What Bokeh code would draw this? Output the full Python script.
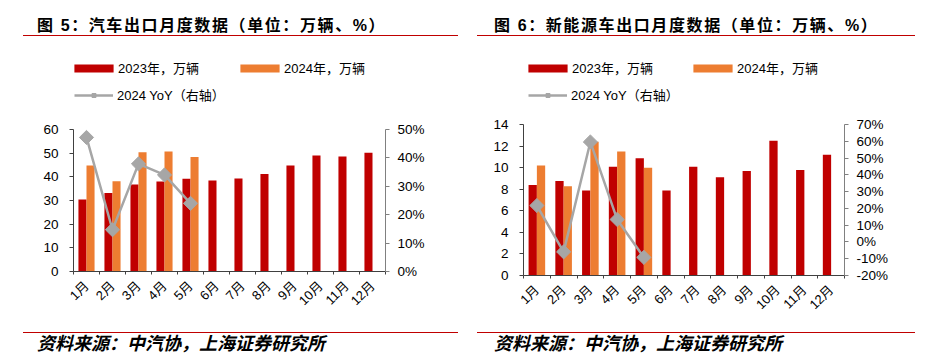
import math
from bokeh.plotting import figure
from bokeh.models import (Range1d, LinearAxis, FixedTicker, PrintfTickFormatter,
                          Legend, LegendItem, Div, ColumnDataSource)
from bokeh.layouts import row, column
from bokeh.transform import dodge
from bokeh.embed import file_html
from bokeh.resources import INLINE

# ---------------- data ----------------
months = ["1月", "2月", "3月", "4月", "5月", "6月", "7月", "8月", "9月", "10月", "11月", "12月"]

car_2023 = [30.4, 33.2, 36.8, 38.0, 39.2, 38.5, 39.3, 41.2, 44.8, 49.0, 48.6, 50.2]
car_2024 = [44.8, 38.1, 50.4, 50.7, 48.4]
car_yoy = [47.2, 14.7, 37.9, 34.0, 24.0]

nev_2023 = [8.38, 8.77, 7.89, 10.09, 10.88, 7.89, 10.09, 9.11, 9.69, 12.50, 9.78, 11.19]
nev_2024 = [10.21, 8.28, 12.4, 11.49, 9.99]
nev_yoy = [21.7, -5.9, 59.6, 13.4, -9.2]

car_left_ticks = [0, 10, 20, 30, 40, 50, 60]
car_right_ticks = [0, 10, 20, 30, 40, 50]
nev_left_ticks = [0, 2, 4, 6, 8, 10, 12, 14]
nev_right_ticks = [-20, -10, 0, 10, 20, 30, 40, 50, 60, 70]

title_left = "图 5：汽车出口月度数据（单位：万辆、%）"
title_right = "图 6：新能源车出口月度数据（单位：万辆、%）"
source_text = "资料来源：中汽协，上海证券研究所"
lbl_2023 = "2023年，万辆"
lbl_2024 = "2024年，万辆"
lbl_yoy = "2024 YoY（右轴）"

RED = "#c00000"
ORANGE = "#ed7d31"
GREY = "#a6a6a6"
FONT = "'Liberation Sans', 'Noto Sans CJK SC', sans-serif"
FIG_H = 284


def make_fig(width, v23, v24, yoy, lt, rt, borders, data_h, leg_pos):
    # frame extends above the axes to hold the legend; axis bounds limit the drawn axes
    bl, br, bt, bb = borders
    frame_h = FIG_H - bt - bb
    ext = frame_h / data_h
    yl = (lt[0], lt[0] + (lt[-1] - lt[0]) * ext)
    yr = (rt[0], rt[0] + (rt[-1] - rt[0]) * ext)
    p = figure(width=width, height=FIG_H, output_backend="svg", toolbar_location=None,
               x_range=Range1d(0.5, 12.5), y_range=Range1d(*yl),
               min_border_left=bl, min_border_right=br,
               min_border_top=bt, min_border_bottom=bb,
               tools="", sizing_mode="fixed")
    p.outline_line_color = None
    p.grid.visible = False
    p.background_fill_color = "white"
    p.border_fill_color = "white"
    p.extra_y_ranges = {"yoy": Range1d(*yr)}

    xs = list(range(1, len(months) + 1))
    s23 = ColumnDataSource(dict(x=xs, v=v23))
    s24 = ColumnDataSource(dict(x=xs[:len(v24)], v=v24))
    sy = ColumnDataSource(dict(x=xs[:len(yoy)], v=yoy))

    r23 = p.vbar(x=dodge("x", -0.155, range=p.x_range), top="v", width=0.31,
                 source=s23, fill_color=RED, line_color=None)
    r24 = p.vbar(x=dodge("x", 0.155, range=p.x_range), top="v", width=0.31,
                 source=s24, fill_color=ORANGE, line_color=None)
    rl = p.line(x="x", y="v", source=sy, y_range_name="yoy", line_color=GREY, line_width=2.5)
    rm = p.scatter(x="x", y="v", source=sy, y_range_name="yoy", marker="square",
                   angle=math.pi / 4, size=10, fill_color=GREY, line_color=GREY)

    # x axis
    xa = p.xaxis[0]
    xa.ticker = FixedTicker(ticks=xs, minor_ticks=[x - 0.5 for x in xs] + [xs[-1] + 0.5])
    xa.major_label_overrides = {x: m for x, m in zip(xs, months)}
    xa.major_tick_in = 0
    xa.major_tick_out = 0
    xa.minor_tick_in = 0
    xa.minor_tick_out = 3
    xa.minor_tick_line_color = "#404040"
    xa.axis_line_color = "#404040"
    xa.major_label_orientation = math.pi / 4
    xa.major_label_standoff = 9
    xa.major_label_text_font = FONT
    xa.major_label_text_font_size = "13px"
    xa.major_label_text_color = "black"

    # left axis
    ya = p.yaxis[0]
    ya.ticker = FixedTicker(ticks=lt)
    ya.bounds = (lt[0], lt[-1])
    ya.minor_tick_line_color = None
    ya.major_tick_in = 0
    ya.major_tick_out = 4
    ya.axis_line_color = "#404040"
    ya.major_tick_line_color = "#404040"
    ya.major_label_standoff = 11
    ya.major_label_text_font = FONT
    ya.major_label_text_font_size = "13.5px"
    ya.major_label_text_color = "black"

    # right axis
    ra = LinearAxis(y_range_name="yoy", ticker=FixedTicker(ticks=rt),
                    formatter=PrintfTickFormatter(format="%d%%"),
                    bounds=(rt[0], rt[-1]))
    ra.minor_tick_line_color = None
    ra.major_tick_in = 0
    ra.major_tick_out = 4
    ra.axis_line_color = "#808080"
    ra.major_tick_line_color = "#808080"
    ra.major_label_standoff = 8
    ra.major_label_text_font = FONT
    ra.major_label_text_font_size = "13.5px"
    ra.major_label_text_color = "black"
    p.add_layout(ra, "right")

    def mk_leg(label, rends, loc, gw, standoff):
        lg = Legend(items=[LegendItem(label=label, renderers=rends)], location=loc,
                    glyph_width=gw, glyph_height=10, label_height=10, label_width=10,
                    label_standoff=standoff, padding=0, margin=0, spacing=0,
                    border_line_color=None, background_fill_alpha=0,
                    label_text_font=FONT, label_text_font_size="13px",
                    label_text_color="black")
        p.add_layout(lg, "center")

    mk_leg(lbl_2023, [r23], leg_pos[0], 49, 0)
    mk_leg(lbl_2024, [r24], leg_pos[1], 49, 0)
    mk_leg(lbl_yoy, [rl, rm], leg_pos[2], 39, 4)
    return p


def title_div(text, width, ml, lw, tl):
    html = (f'<div style="margin-left:{ml}px;width:{lw}px;height:31px;'
            f'border-bottom:1px solid {RED};position:relative;">'
            f'<span style="position:absolute;left:{tl}px;top:11px;white-space:nowrap;'
            f'font-weight:bold;font-size:16px;line-height:20px;letter-spacing:1.6px;'
            f'font-family:{FONT};color:#000;">{text}</span></div>')
    return Div(text=html, width=width, height=32, sizing_mode="fixed")


def source_div(text, width, ml, lw, tl):
    html = (f'<div style="margin-left:{ml}px;margin-top:1px;width:{lw}px;height:25px;'
            f'border-top:1px solid {RED};position:relative;">'
            f'<span style="position:absolute;left:{tl}px;top:1px;white-space:nowrap;'
            f'font-weight:bold;font-style:italic;font-size:18px;line-height:20px;'
            f'font-family:{FONT};color:#000;">{text}</span></div>')
    return Div(text=html, width=width, height=27, sizing_mode="fixed")


# left panel: frame 50..269 (page), data area 127..269 -> 142 px
p1 = make_fig(462, car_2023, car_2024, car_yoy,
              car_left_ticks, car_right_ticks, (65, 85, 10, 55), 142,
              [(-4, 194), (162, 194), (1, 167)])
# right panel: frame 50..273 (page), data area 122..273 -> 151 px
p2 = make_fig(456, nev_2023, nev_2024, nev_yoy,
              nev_left_ticks, nev_right_ticks, (53, 82, 10, 51), 151,
              [(0, 198), (165, 198), (5, 171)])

left = column(title_div(title_left, 462, 10, 435, 14), p1,
              source_div(source_text, 462, 10, 435, 14),
              width=462, height=343, sizing_mode="fixed", spacing=0)
right = column(title_div(title_right, 456, 2, 438, 17), p2,
               source_div(source_text, 456, 2, 438, 17),
               width=456, height=343, sizing_mode="fixed", spacing=0)
layout = row(left, right, width=918, height=343, sizing_mode="fixed", spacing=0,
             margin=(0, 8, 0, 8))

open("out.html", "w").write(file_html(layout, INLINE))
